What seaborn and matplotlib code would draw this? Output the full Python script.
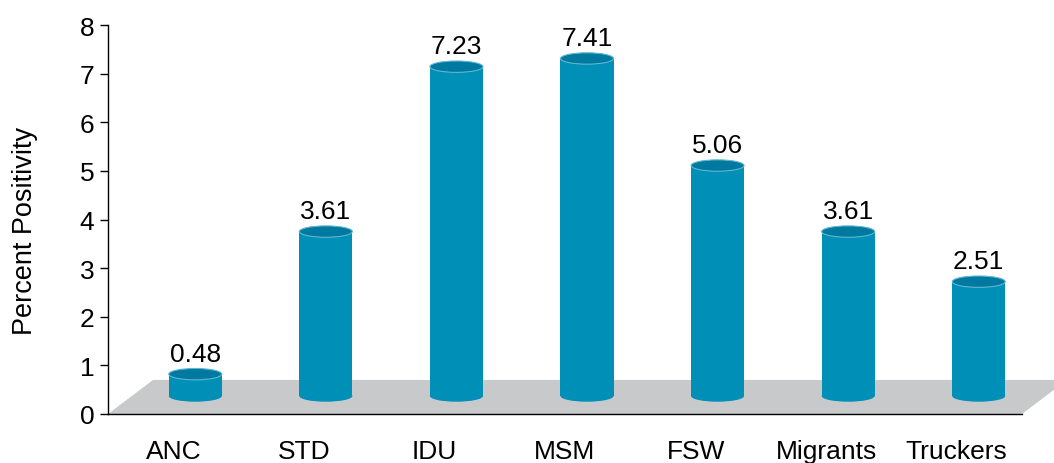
import numpy as np
import pandas as pd
import matplotlib
matplotlib.use("Agg")
import matplotlib.pyplot as plt
from matplotlib.patches import Ellipse, Polygon
from matplotlib.ticker import FixedLocator
import seaborn as sns

# ---- data ----
categories = ["ANC", "STD", "IDU", "MSM", "FSW", "Migrants", "Truckers"]
values = [0.48, 3.61, 7.23, 7.41, 5.06, 3.61, 2.51]
y_ticks = [0, 1, 2, 3, 4, 5, 6, 7, 8]
y_label = "Percent Positivity"

# ---- style ----
sns.set_style("white")
plt.rcParams["font.family"] = ["Liberation Sans", "DejaVu Sans"]
plt.rcParams["text.color"] = "black"
plt.rcParams["axes.labelcolor"] = "black"
plt.rcParams["xtick.color"] = "black"
plt.rcParams["ytick.color"] = "black"

body_color = "#008fb6"
top_color = "#0079a1"
edge_light = "#62b6d2"
floor_color = "#c8c9cb"

W, H, DPI = 1054, 464, 100
fig = plt.figure(figsize=(W / DPI, H / DPI), dpi=DPI)
ax_rect = [108 / W, (H - 415) / H, (1022 - 108) / W, (415 - 26) / H]
ax = fig.add_axes(ax_rect)

n = len(categories)
ax.set_xlim(-0.5, n - 0.5)
ax.set_ylim(0, 8)
ax.set_yticks(y_ticks)
ax.set_xticks(range(n))
ax.set_xticklabels(categories, fontsize=19)
ax.xaxis.set_minor_locator(FixedLocator(np.arange(-0.5, n, 1.0)))
ax.tick_params(axis="x", which="major", length=0, pad=18)
ax.tick_params(axis="x", which="minor", length=5.2, width=1, direction="out", color="black")
ax.tick_params(axis="y", which="major", length=5.8, width=1, direction="out", color="black",
               labelsize=19, pad=4, left=True)
for s in ["top", "right"]:
    ax.spines[s].set_visible(False)
for s in ["left", "bottom"]:
    ax.spines[s].set_color("black")
    ax.spines[s].set_linewidth(1.0)
ax.set_ylabel(y_label, fontsize=19.5, color="black")
ax.yaxis.set_label_coords(-0.077, 0.472)

# floor (3-D base plane)
depth_x, depth_y = 0.345, 0.70
floor = Polygon([(-0.5, 0), (n - 0.5, 0), (n - 0.5 + depth_x, depth_y), (-0.5 + depth_x, depth_y)],
                closed=True, facecolor=floor_color, edgecolor="none", clip_on=False, zorder=0.5)
ax.add_patch(floor)

# cylinder layer (projected 3-D scale)
ax2 = fig.add_axes(ax_rect)
ax2.patch.set_alpha(0)
df = pd.DataFrame({"category": categories, "value": values})
sns.barplot(data=df, x="category", y="value", ax=ax2, color=body_color, saturation=1,
            width=0.406, edgecolor="none", linewidth=0)
shift = 22 / 130.57
ax2.set_xlim(-0.5 - shift, n - 0.5 - shift)
ax2.set_ylim(-0.395, 8.145)
ax2.axis("off")

ell_h = 0.25
for p, v in zip(ax2.patches[:n], values):
    cx = p.get_x() + p.get_width() / 2
    w = p.get_width()
    ax2.add_patch(Ellipse((cx, 0), w, ell_h, facecolor=body_color, edgecolor="none", zorder=1.5))
    ax2.add_patch(Ellipse((cx, v), w, ell_h, facecolor=top_color, edgecolor=edge_light,
                          linewidth=0.8, zorder=3))
    ax2.annotate(f"{v:.2f}", (cx, v), xytext=(0, 9.7), textcoords="offset points",
                 ha="center", va="baseline", fontsize=19, color="black")

fig.savefig("out.png", dpi=DPI)
